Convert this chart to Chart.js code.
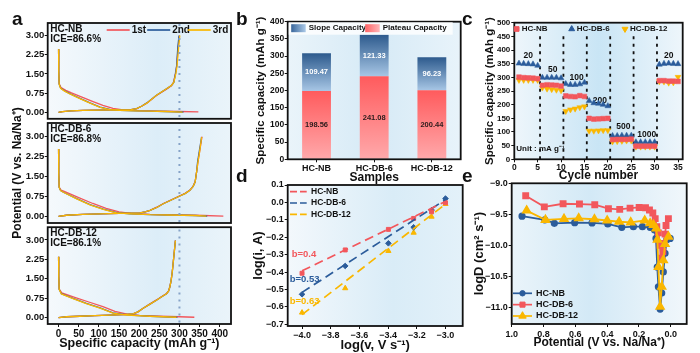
<!DOCTYPE html>
<html>
<head>
<meta charset="utf-8">
<script src="https://cdn.jsdelivr.net/npm/chart.js@4.4.1/dist/chart.umd.min.js"></script>
<style>
  body { margin: 0; width: 700px; height: 353px; position: relative; overflow: hidden; background: #fff; }
  canvas { position: absolute; }
  .tag { position: absolute; font: bold 19px 'Liberation Sans', Arial, sans-serif; line-height: 19px; color: #111; }
</style>
</head>
<body>
<canvas id="a1" width="240" height="125" style="left:0;top:0"></canvas>
<canvas id="a2" width="240" height="220" style="left:0;top:63px"></canvas>
<canvas id="a3" width="240" height="132" style="left:0;top:221px"></canvas>
<canvas id="b" width="230" height="188" style="left:240px;top:0"></canvas>
<canvas id="c" width="240" height="188" style="left:460px;top:0"></canvas>
<canvas id="d" width="230" height="183" style="left:240px;top:170px"></canvas>
<canvas id="e" width="240" height="183" style="left:460px;top:170px"></canvas>
<div class="tag" style="left:12px;top:9px">a</div>
<div class="tag" style="left:236px;top:9px">b</div>
<div class="tag" style="left:462px;top:9px">c</div>
<div class="tag" style="left:236px;top:166px">d</div>
<div class="tag" style="left:462px;top:166px">e</div>
<script>
const FONT = "'Liberation Sans', Arial, Helvetica, sans-serif";
const RED = '#f2575c', BLUE = '#2b5c9b', YEL = '#fab700';

// a: charge / discharge profiles, [capacity mAh/g, potential V]
const refCap = 300;
const nbDis1 = [[0,2.47],[0.5,1.6],[1.5,1.12],[6,0.97],[18,0.86],[32,0.76],[58,0.6],[84,0.43],[110,0.27],[135,0.16],[160,0.1],[200,0.07],[250,0.05],[300,0.035],[347,0.02]];
const nbDis2 = [[0,2.47],[0.5,1.6],[1.5,1.1],[5,0.95],[15,0.84],[28,0.73],[53,0.55],[78,0.37],[103,0.21],[127,0.12],[152,0.08],[190,0.06],[227,0.05],[265,0.035],[310,0.015]];
const nbDis3 = [[0,2.47],[0.5,1.6],[1.5,1.1],[5,0.94],[15,0.83],[28,0.72],[53,0.54],[78,0.36],[103,0.2],[127,0.11],[152,0.075],[190,0.06],[227,0.05],[265,0.035],[308,0.01]];
const nbChg1 = [[0,0],[10,0.03],[30,0.06],[61,0.08],[100,0.09],[144,0.1],[180,0.11],[194,0.15],[207,0.25],[219,0.36],[243,0.66],[268,0.91],[280,1.04],[285,1.16],[290,1.5],[293,1.8],[297,2.55],[300,3.0]];
const nbChg2 = [[0,0],[10,0.03],[30,0.06],[61,0.08],[100,0.09],[144,0.1],[180,0.11],[194,0.15],[207,0.25],[219,0.37],[243,0.67],[268,0.92],[280,1.05],[286,1.17],[290,1.5],[293,1.8],[296,2.55],[299,3.0]];
const nbChg3 = [[0,0],[10,0.03],[30,0.06],[61,0.08],[100,0.09],[144,0.1],[180,0.11],[194,0.15],[207,0.25],[219,0.36],[243,0.67],[268,0.92],[280,1.05],[286,1.17],[291,1.5],[294,1.8],[298,2.55],[301,3.0]];
const db6Dis1 = [[0,2.52],[0.5,1.6],[1.5,1.09],[6,0.98],[14,0.93],[50,0.7],[85,0.48],[118,0.3],[150,0.17],[180,0.11],[227,0.07],[300,0.05],[360,0.03],[409,0.01]];
const db6Dis2 = [[0,2.52],[0.5,1.6],[1.5,1.08],[5,0.96],[12,0.9],[45,0.66],[78,0.44],[111,0.27],[144,0.14],[177,0.09],[227,0.06],[270,0.05],[310,0.04],[340,0.03],[369,0.01]];
const db6Dis3 = [[0,2.52],[0.5,1.6],[1.5,1.08],[5,0.96],[12,0.9],[45,0.65],[78,0.43],[111,0.26],[144,0.13],[177,0.09],[227,0.06],[270,0.05],[310,0.04],[340,0.03],[367,0.01]];
const db6Chg1 = [[0,0],[20,0.04],[60,0.07],[103,0.09],[150,0.11],[202,0.13],[215,0.17],[227,0.22],[245,0.35],[260,0.48],[280,0.62],[301,0.77],[315,0.87],[326,0.98],[334,1.13],[339,1.3],[343,1.7],[346,2.05],[351,2.5],[356,2.98]];
const db6Chg2 = [[0,0],[20,0.04],[60,0.07],[103,0.09],[150,0.11],[202,0.13],[215,0.17],[227,0.22],[245,0.34],[260,0.47],[280,0.61],[301,0.76],[315,0.86],[326,0.97],[334,1.12],[339,1.28],[343,1.7],[345,2.03],[350,2.5],[355,2.96]];
const db6Chg3 = [[0,0],[20,0.04],[60,0.07],[103,0.09],[150,0.11],[202,0.13],[215,0.17],[227,0.22],[245,0.34],[260,0.47],[280,0.61],[301,0.76],[315,0.86],[326,0.97],[334,1.12],[339,1.28],[343,1.7],[346,2.03],[351,2.5],[355,2.96]];
const db12Dis1 = [[0,2.35],[0.5,1.6],[1.5,1.1],[8,0.95],[40,0.78],[75,0.6],[110,0.42],[140,0.24],[170,0.13],[200,0.08],[250,0.05],[300,0.03],[337,0.01]];
const db12Dis2 = [[0,2.35],[0.5,1.6],[1.5,1.09],[7,0.92],[36,0.74],[69,0.55],[103,0.37],[135,0.18],[169,0.1],[227,0.05],[260,0.03],[295,0.01]];
const db12Dis3 = [[0,2.35],[0.5,1.6],[1.5,1.09],[7,0.91],[36,0.73],[69,0.54],[103,0.36],[135,0.17],[169,0.09],[227,0.05],[260,0.03],[293,0.01]];
const db12Chg1 = [[0,0],[20,0.03],[53,0.05],[90,0.07],[127,0.09],[160,0.11],[185,0.14],[197,0.22],[210,0.36],[225,0.51],[243,0.68],[256,0.81],[268,0.93],[273,1.03],[276,1.18],[279,1.4],[282,1.73],[286,2.35],[290,2.98]];
const db12Chg2 = [[0,0],[20,0.03],[53,0.05],[90,0.07],[127,0.09],[160,0.11],[185,0.14],[197,0.22],[210,0.36],[225,0.5],[243,0.67],[256,0.8],[268,0.92],[273,1.02],[276,1.17],[279,1.4],[282,1.73],[286,2.35],[290,2.97]];
const db12Chg3 = [[0,0],[20,0.03],[53,0.05],[90,0.07],[127,0.09],[160,0.11],[185,0.14],[197,0.22],[210,0.36],[225,0.5],[243,0.67],[256,0.8],[268,0.92],[273,1.02],[276,1.17],[279,1.4],[282,1.73],[286,2.35],[290,2.97]];

// b: capacity split
const samples = ['HC-NB', 'HC-DB-6', 'HC-DB-12'];
const plateauCap = [198.56, 241.08, 200.44];
const slopeCap = [109.47, 121.33, 96.23];

// c: rate performance
const cycles = [1,2,3,4,5,6,7,8,9,10,11,12,13,14,15,16,17,18,19,20,21,22,23,24,25,26,27,28,29,30,31,32,33,34,35];
const rateNB = [301,299,298,297,295, 271,273,272,271,268, 232,230,229,233,230, 150,147,148,149,150, 72,73,73,73,74, 48,48,48,48,48, 288,288,286,286,285];
const rateDB6 = [351,350,349,348,343, 299,299,299,299,297, 276,273,273,275,281, 214,206,204,200,195, 86,86,87,87,87, 63,63,63,63,63, 347,350,351,350,349];
const rateDB12 = [290,290,290,290,290, 262,258,256,254,252, 176,182,185,190,193, 104,104,105,106,106, 65,66,67,68,68, 46,46,46,46,46, 285,284,280,281,301];
const rateSteps = [5.5, 10.5, 15.5, 20.5, 25.5, 30.5];
const rateLabels = ['20', '50', '100', '200', '500', '1000', '20'];
const rateLabelAt = [[3, 378], [8.2, 328], [13.3, 298], [18.3, 215], [23.3, 118], [28.3, 90], [33, 378]];

// d: log(i) vs log(v)
const logV = [-4.0, -3.699, -3.398, -3.222, -3.097, -3.0];
const logI_NB = [-0.407, -0.273, -0.155, -0.092, -0.054, -0.002];
const logI_DB6 = [-0.528, -0.365, -0.235, -0.143, -0.044, 0.022];
const logI_DB12 = [-0.633, -0.493, -0.279, -0.174, -0.082, -0.009];
const fitNB = [[-4.0, -0.393], [-3.0, 0.005]];
const fitDB6 = [[-4.0, -0.517], [-3.0, 0.016]];
const fitDB12 = [[-4.0, -0.645], [-3.0, -0.01]];
const bLabels = ['b=0.4', 'b=0.53', 'b=0.63'];
const bLabelAt = [[-4.072, -0.298], [-4.086, -0.441], [-4.086, -0.566]];

// e: logD vs potential, [V, logD]
const eNB = [[0.935,-9.53],[0.792,-9.59],[0.732,-9.645],[0.604,-9.635],[0.495,-9.64],[0.396,-9.655],[0.308,-9.71],[0.235,-9.70],[0.178,-9.70],[0.130,-9.71],[0.103,-9.75],[0.093,-9.89],[0.085,-10.35],[0.078,-10.67],[0.067,-11.03],[0.057,-10.77],[0.047,-10.43],[0.036,-10.13],[0.025,-9.91],[0.004,-9.89]];
const eDB6 = [[0.912,-9.20],[0.795,-9.38],[0.677,-9.33],[0.574,-9.335],[0.478,-9.345],[0.392,-9.41],[0.321,-9.42],[0.256,-9.40],[0.199,-9.39],[0.159,-9.395],[0.134,-9.43],[0.113,-9.48],[0.098,-9.57],[0.088,-9.70],[0.078,-9.80],[0.068,-10.0],[0.057,-10.21],[0.050,-10.1],[0.042,-9.97],[0.036,-9.82],[0.030,-9.68],[0.015,-9.57]];
const eDB12 = [[0.906,-9.44],[0.788,-9.59],[0.671,-9.575],[0.579,-9.565],[0.480,-9.58],[0.400,-9.60],[0.325,-9.62],[0.252,-9.63],[0.164,-9.60],[0.130,-9.645],[0.109,-9.67],[0.092,-9.73],[0.084,-9.91],[0.078,-10.35],[0.067,-10.99],[0.057,-10.67],[0.047,-10.24],[0.036,-9.98],[0.015,-9.86]];

Chart.defaults.font.family = FONT;
Chart.defaults.font.weight = 'bold';
Chart.defaults.color = '#111';
Chart.defaults.animation = false;
Chart.defaults.responsive = false;
Chart.defaults.events = [];
Chart.defaults.plugins.legend.display = false;
Chart.defaults.plugins.tooltip.enabled = false;

// light gradient behind each plot plus a black frame
Chart.register({
  id: 'frame',
  beforeDraw(chart, args, opts) {
    const { ctx, chartArea: a } = chart;
    const stops = opts.stops || [[0, '#f2f8fc'], [0.5, '#d8ebf7'], [1, '#eef6fb']];
    const g = ctx.createLinearGradient(a.left, 0, a.right, 0);
    stops.forEach(s => g.addColorStop(s[0], s[1]));
    ctx.save();
    ctx.fillStyle = g;
    ctx.fillRect(a.left, a.top, a.right - a.left, a.bottom - a.top);
    ctx.restore();
  },
  afterDraw(chart) {
    const { ctx, chartArea: a } = chart;
    ctx.save();
    ctx.strokeStyle = '#111';
    ctx.lineWidth = 1.8;
    ctx.strokeRect(a.left, a.top, a.right - a.left, a.bottom - a.top);
    ctx.restore();
  }
});

function drawText(ctx, s, x, y, size, color, align) {
  ctx.save();
  ctx.font = 'bold ' + size + 'px ' + FONT;
  ctx.fillStyle = color || '#111';
  ctx.textAlign = align || 'left';
  ctx.textBaseline = 'middle';
  ctx.fillText(s, x, y);
  ctx.restore();
}

function marker(ctx, style, r, rot, color, x, y) {
  ctx.save();
  ctx.fillStyle = color;
  ctx.strokeStyle = color;
  Chart.helpers.drawPoint(ctx, { pointStyle: style, radius: r, rotation: rot || 0, borderWidth: 0.5 }, x, y);
  ctx.restore();
}

function hline(ctx, x0, x1, y, color, dash) {
  ctx.save();
  ctx.strokeStyle = color;
  ctx.lineWidth = 1.7;
  if (dash) ctx.setLineDash(dash);
  ctx.beginPath();
  ctx.moveTo(x0, y);
  ctx.lineTo(x1, y);
  ctx.stroke();
  ctx.restore();
}

function axis(o) {
  const shown = o.display !== false;
  const s = {
    type: o.type || 'linear',
    display: shown,
    ticks: { autoSkip: false, maxRotation: 0, padding: o.pad === undefined ? 1 : o.pad, font: { size: o.size }, color: '#111' },
    grid: { drawOnChartArea: false, tickLength: 3, color: '#111', lineWidth: 1, offset: false },
    border: { display: false },
    afterFit(sc) {
      if (!shown) return;
      if (sc.isHorizontal()) sc.height = o.fit; else sc.width = o.fit;
    }
  };
  if (o.min !== undefined) { s.min = o.min; s.max = o.max; }
  if (o.step) { s.ticks.stepSize = o.step; s.ticks.includeBounds = false; }
  if (o.fmt) s.ticks.callback = o.fmt;
  if (o.reverse) s.reverse = true;
  if (o.stacked) s.stacked = true;
  if (o.title) s.title = { display: true, text: o.title, color: '#111', font: { size: o.tsize }, padding: o.tpad };
  return s;
}

const neg1 = v => v.toFixed(1).replace('-', '\u2212');

// ---------- a ----------
const legendA = {
  id: 'legendA',
  afterDraw(chart) {
    const { ctx, chartArea: a } = chart;
    const y = a.top + 7;
    [['1st', RED, 59], ['2nd', BLUE, 99.5], ['3rd', YEL, 140]].forEach(([t, c, dx]) => {
      hline(ctx, a.left + dx, a.left + dx + 23, y, c);
      drawText(ctx, t, a.left + dx + 25, y, 10);
    });
  }
};

function profile(id, sets, tag, opt) {
  const cols = [RED, BLUE, YEL];
  const datasets = sets.map((arr, i) => ({
    data: arr, borderColor: cols[i % 3], borderWidth: 1.3, pointRadius: 0, tension: 0, order: 2 - (i % 3)
  }));
  datasets.push({ data: [[refCap, -1], [refCap, 4]], borderColor: '#86a3c8', borderWidth: 2, borderDash: [2, 5], pointRadius: 0, order: -1 });
  const extra = [{
    id: 'tagText',
    afterDraw(chart) {
      const a = chart.chartArea;
      drawText(chart.ctx, tag[0], a.left + 2.5, a.top + 6.5, 10);
      drawText(chart.ctx, tag[1], a.left + 2.5, a.top + 16.5, 10);
    }
  }];
  if (opt.legend) extra.push(legendA);
  return new Chart(document.getElementById(id), {
    type: 'line',
    data: { datasets },
    options: {
      layout: { padding: opt.pad },
      plugins: { frame: { stops: [[0, '#f5f9fc'], [0.6, '#dcedf8'], [1, '#eaf4fa']] } },
      scales: {
        x: axis({ min: -27, max: 428, step: 50, size: 10, display: !!opt.showX, fit: 29, pad: 1,
                  title: opt.showX ? 'Specific capacity (mAh g\u207B\u00B9)' : null, tsize: 12.5, tpad: { top: 0, bottom: 1.5 } }),
        y: axis({ min: -0.25, max: 3.49, step: 0.75, size: 9.5, fit: 47.7, pad: 0.5, fmt: v => v.toFixed(2),
                  title: opt.yTitle, tsize: 12, tpad: { top: 10.8, bottom: 0 } })
      }
    },
    plugins: extra
  });
}

profile('a1', [nbDis1, nbDis2, nbDis3, nbChg1, nbChg2, nbChg3], ['HC-NB', 'ICE=86.6%'],
  { legend: true, pad: { top: 23, bottom: 2, left: 0, right: 9 } });
profile('a2', [db6Dis1, db6Dis2, db6Dis3, db6Chg1, db6Chg2, db6Chg3], ['HC-DB-6', 'ICE=86.8%'],
  { yTitle: 'Potential (V vs. Na/Na\u207A)', pad: { top: 60, bottom: 60, left: 0, right: 9 } });
profile('a3', [db12Dis1, db12Dis2, db12Dis3, db12Chg1, db12Chg2, db12Chg3], ['HC-DB-12', 'ICE=86.1%'],
  { showX: true, pad: { top: 2, bottom: 0, left: 0, right: 9 } });

// ---------- b ----------
function vGrad(c, v0, v1, col0, col1) {
  const ch = c.chart;
  if (!ch.chartArea || c.dataIndex === undefined) return col1;
  const y = ch.scales.y;
  const g = ch.ctx.createLinearGradient(0, y.getPixelForValue(v0), 0, y.getPixelForValue(v1));
  g.addColorStop(0, col0);
  g.addColorStop(1, col1);
  return g;
}

const bExtras = {
  id: 'bExtras',
  afterDatasetsDraw(chart) {
    const ctx = chart.ctx;
    chart.data.datasets.forEach((ds, i) => {
      chart.getDatasetMeta(i).data.forEach((bar, j) => {
        drawText(ctx, ds.data[j].toFixed(2), bar.x, (bar.y + bar.base) / 2, 7.5, i === 0 ? '#2b1b1b' : '#ffffff', 'center');
      });
    });
  },
  afterDraw(chart) {
    const { ctx, chartArea: a } = chart;
    ctx.save();
    ctx.fillStyle = 'rgba(255,255,255,0.8)';
    ctx.fillRect(a.left + 1, a.top + 0.5, 164, 12.5);
    ctx.restore();
    [['Slope Capacity', '#a7c6e5', '#3a679c', 3.5], ['Plateau Capacity', '#ffb3b5', '#ff6466', 77.5]].forEach(([t, c0, c1, dx]) => {
      const x = a.left + dx, y = a.top + 2.5;
      const g = ctx.createLinearGradient(x + 14, 0, x, 0);
      g.addColorStop(0, c0);
      g.addColorStop(1, c1);
      ctx.fillStyle = g;
      ctx.fillRect(x, y, 14.5, 8);
      drawText(ctx, t, x + 17.5, y + 4, 8);
    });
  }
};

new Chart(document.getElementById('b'), {
  type: 'bar',
  data: {
    labels: samples,
    datasets: [
      { label: 'Plateau Capacity', data: plateauCap, stack: 's', barPercentage: 0.5, categoryPercentage: 1,
        backgroundColor: c => vGrad(c, 0, plateauCap[c.dataIndex], '#ffa9ab', '#ff5b5d') },
      { label: 'Slope Capacity', data: slopeCap, stack: 's', barPercentage: 0.5, categoryPercentage: 1,
        backgroundColor: c => vGrad(c, plateauCap[c.dataIndex], plateauCap[c.dataIndex] + slopeCap[c.dataIndex], '#a7c6e5', '#2d5a8d') }
    ]
  },
  options: {
    layout: { padding: { top: 21.7, right: 9.3, left: 0, bottom: 0 } },
    plugins: { frame: { stops: [[0, '#eaf4fa'], [0.5, '#d6eaf6'], [1, '#e8f3fa']] } },
    scales: {
      x: axis({ type: 'category', stacked: true, size: 9, fit: 28.7, pad: 1, title: 'Samples', tsize: 12, tpad: { top: 0, bottom: 3.1 } }),
      y: axis({ min: 0, max: 400, step: 50, stacked: true, size: 8.5, fit: 47.7, pad: 0.5,
                title: 'Specific capacity (mAh g\u207B\u00B9)', tsize: 11.5, tpad: { top: 14, bottom: 0 } })
    }
  },
  plugins: [bExtras]
});

// ---------- c ----------
const cPts = arr => arr.map((v, i) => ({ x: cycles[i], y: v }));
const cExtras = {
  id: 'cExtras',
  beforeDatasetsDraw(chart) {
    const { ctx, scales: { x, y } } = chart;
    ctx.save();
    ctx.strokeStyle = '#111';
    ctx.lineWidth = 1.8;
    ctx.setLineDash([3, 4.5]);
    rateSteps.forEach(v => {
      const px = x.getPixelForValue(v);
      ctx.beginPath();
      ctx.moveTo(px, y.getPixelForValue(0));
      ctx.lineTo(px, y.getPixelForValue(450));
      ctx.stroke();
    });
    ctx.restore();
    rateLabels.forEach((t, i) => drawText(ctx, t, x.getPixelForValue(rateLabelAt[i][0]), y.getPixelForValue(rateLabelAt[i][1]), 8.5, '#111', 'center'));
  },
  afterDraw(chart) {
    const { ctx, chartArea: a } = chart;
    drawText(ctx, 'Unit : mA g\u207B\u00B9', a.left + 2, a.bottom - 10.5, 8);
    [['HC-NB', RED, 'rect', 3.3, 0, 2.4], ['HC-DB-6', BLUE, 'triangle', 3.4, 0, 57.4], ['HC-DB-12', YEL, 'triangle', 3.4, 180, 110.7]].forEach(([t, c, s, r, rot, dx]) => {
      marker(ctx, s, r, rot, c, a.left + dx, a.top + 6.3);
      drawText(ctx, t, a.left + dx + 5, a.top + 6.3, 8);
    });
  }
};

new Chart(document.getElementById('c'), {
  type: 'line',
  data: {
    datasets: [
      { data: cPts(rateNB), showLine: false, pointStyle: 'rect', pointRadius: 3.3, pointBackgroundColor: RED, pointBorderColor: RED, pointBorderWidth: 0.5 },
      { data: cPts(rateDB6), showLine: false, pointStyle: 'triangle', pointRadius: 3.4, pointBackgroundColor: BLUE, pointBorderColor: BLUE, pointBorderWidth: 0.5 },
      { data: cPts(rateDB12), showLine: false, pointStyle: 'triangle', pointRotation: 180, pointRadius: 3.4, pointBackgroundColor: YEL, pointBorderColor: YEL, pointBorderWidth: 0.5 }
    ]
  },
  options: {
    layout: { padding: { top: 22.7, right: 17.3, left: 0, bottom: 0 } },
    plugins: { frame: { stops: [[0, '#eef6fb'], [0.5, '#c9e5f5'], [1, '#eef6fb']] } },
    scales: {
      x: axis({ min: 0, max: 36, step: 5, size: 8.5, fit: 28.7, pad: 0.5, title: 'Cycle number', tsize: 12, tpad: { top: 0, bottom: 4.8 } }),
      y: axis({ min: 0, max: 500, step: 50, size: 8, fit: 54.3, pad: 1,
                title: 'Specific capacity (mAh g\u207B\u00B9)', tsize: 11.5, tpad: { top: 22.6, bottom: 0 } })
    }
  },
  plugins: [cExtras]
});

// ---------- d ----------
const dPts = ys => ys.map((v, i) => ({ x: logV[i], y: v }));
const fitPts = f => f.map(p => ({ x: p[0], y: p[1] }));
const dExtras = {
  id: 'dExtras',
  afterDraw(chart) {
    const { ctx, chartArea: a, scales: { x, y } } = chart;
    const cols = [RED, BLUE, YEL];
    bLabels.forEach((t, i) => drawText(ctx, t, x.getPixelForValue(bLabelAt[i][0]), y.getPixelForValue(bLabelAt[i][1]), 9.5, cols[i]));
    samples.forEach((t, i) => {
      const yy = a.top + 6.7 + i * 11.3;
      hline(ctx, a.left + 2.3, a.left + 19, yy, cols[i], [7, 3]);
      drawText(ctx, t, a.left + 23.3, yy, 8.5);
    });
  }
};

new Chart(document.getElementById('d'), {
  type: 'line',
  data: {
    datasets: [
      { data: fitPts(fitNB), borderColor: RED, borderWidth: 1.7, borderDash: [9, 5], pointRadius: 0 },
      { data: fitPts(fitDB6), borderColor: BLUE, borderWidth: 1.7, borderDash: [9, 5], pointRadius: 0 },
      { data: fitPts(fitDB12), borderColor: YEL, borderWidth: 1.7, borderDash: [9, 5], pointRadius: 0 },
      { data: dPts(logI_NB), showLine: false, pointStyle: 'rect', pointRadius: 2.8, pointBackgroundColor: RED, pointBorderColor: RED },
      { data: dPts(logI_DB6), showLine: false, pointStyle: 'rectRot', pointRadius: 2.8, pointBackgroundColor: BLUE, pointBorderColor: BLUE },
      { data: dPts(logI_DB12), showLine: false, pointStyle: 'triangle', pointRadius: 3, pointBackgroundColor: YEL, pointBorderColor: YEL }
    ]
  },
  options: {
    layout: { padding: { top: 15, right: 7.3, left: 0, bottom: 0 } },
    plugins: { frame: { stops: [[0, '#f3f8fc'], [0.6, '#d9ecf7'], [1, '#e3f1f9']] } },
    scales: {
      x: axis({ min: -4.1, max: -2.88, step: 0.2, size: 9, fit: 27, pad: 1, fmt: neg1,
                title: 'log(v, V s\u207B\u00B9)', tsize: 13, tpad: { top: 0, bottom: 0.2 } }),
      y: axis({ min: -0.71, max: 0.1, step: 0.1, size: 9, fit: 47.7, pad: 1, fmt: neg1,
                title: 'log(i, A)', tsize: 13, tpad: { top: 10.2, bottom: 0 } })
    }
  },
  plugins: [dExtras]
});

// ---------- e ----------
const ePts = arr => arr.map(p => ({ x: p[0], y: p[1] }));
const eStyle = [['HC-NB', BLUE, 'circle', 2.7], ['HC-DB-6', RED, 'rect', 3.6], ['HC-DB-12', YEL, 'triangle', 4.3]];
const eExtras = {
  id: 'eExtras',
  afterDraw(chart) {
    const { ctx, chartArea: a } = chart;
    eStyle.forEach(([t, c, s, r], i) => {
      const y = a.bottom - 30.7 + i * 11.35;
      hline(ctx, a.left + 1.3, a.left + 20.3, y, c);
      marker(ctx, s, r, 0, c, a.left + 10.8, y);
      drawText(ctx, t, a.left + 24.3, y, 9);
    });
  }
};

new Chart(document.getElementById('e'), {
  type: 'line',
  data: {
    datasets: [eNB, eDB6, eDB12].map((arr, i) => ({
      data: ePts(arr), borderColor: eStyle[i][1], borderWidth: 1.8, tension: 0,
      pointStyle: eStyle[i][2], pointRadius: eStyle[i][3], pointBackgroundColor: eStyle[i][1], pointBorderColor: eStyle[i][1],
      order: 2 - i
    }))
  },
  options: {
    layout: { padding: { top: 13.3, right: 13.3, left: 0, bottom: 0 } },
    plugins: { frame: { stops: [[0, '#eaf4fa'], [0.45, '#d3e9f6'], [1, '#f1f7fb']] } },
    scales: {
      x: axis({ min: -0.1, max: 1.0, reverse: true, step: 0.2, size: 9, fit: 29, pad: 2, fmt: neg1,
                title: 'Potential (V vs. Na/Na\u207A)', tsize: 12, tpad: { top: 0, bottom: 2.8 } }),
      y: axis({ min: -11.27, max: -9.0, step: 0.5, size: 9, fit: 51.7, pad: 1, fmt: neg1,
                title: 'logD (cm\u00B2 s\u207B\u00B9)', tsize: 13, tpad: { top: 11.2, bottom: 0 } })
    }
  },
  plugins: [eExtras]
});
</script>
</body>
</html>
